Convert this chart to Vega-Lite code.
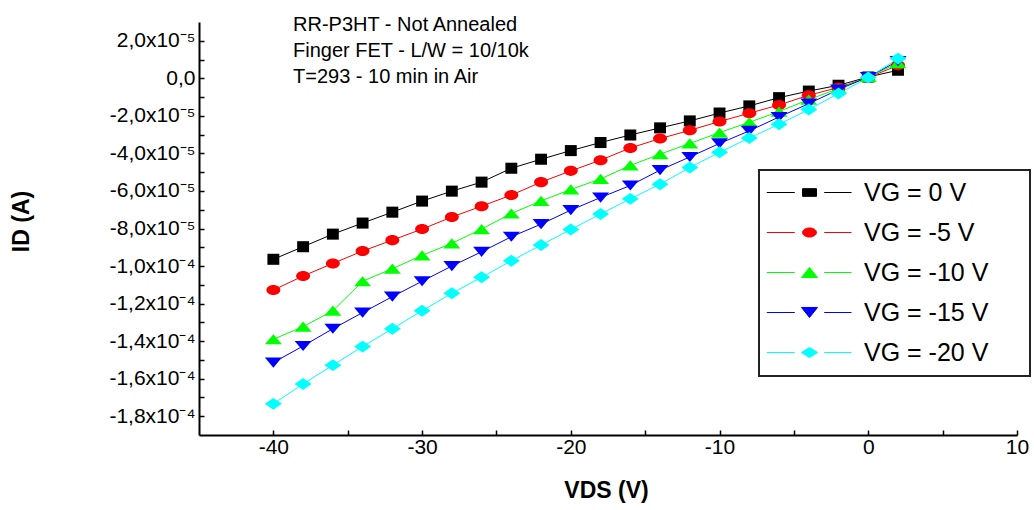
{
  "$schema": "https://vega.github.io/schema/vega-lite/v6.json",
  "width": 818,
  "height": 413,
  "autosize": {"type": "none"},
  "padding": {"left": 199, "top": 22, "right": 17, "bottom": 75},
  "background": "white",
  "config": {
    "view": {"stroke": null},
    "font": "Liberation Sans",
    "axis": {
      "domainColor": "black", "domainWidth": 2, "tickColor": "black", "tickWidth": 1.5, "tickSize": -5,
      "grid": false, "labelColor": "black", "labelFont": "Liberation Sans", "labelFontSize": 21,
      "titleFont": "Liberation Sans", "titleFontSize": 23, "titleFontWeight": "bold", "titleColor": "black",
      "labelOverlap": false, "labelFlush": false
    }
  },
  "title": {
    "text": ["RR-P3HT - Not Annealed", "Finger FET - L/W = 10/10k", "T=293 - 10 min in Air"],
    "anchor": "start", "frame": "group", "orient": "top", "offset": 0, "dx": 94, "dy": 81,
    "baseline": "alphabetic", "lineHeight": 26, "fontSize": 20, "fontWeight": "normal",
    "font": "Liberation Sans", "color": "black"
  },
  "data": {"values": [
    {"vds": -40, "id": -9.64e-5, "vg": "VG = 0 V"}, {"vds": -38, "id": -8.97e-5, "vg": "VG = 0 V"},
    {"vds": -36, "id": -8.30e-5, "vg": "VG = 0 V"}, {"vds": -34, "id": -7.71e-5, "vg": "VG = 0 V"},
    {"vds": -32, "id": -7.13e-5, "vg": "VG = 0 V"}, {"vds": -30, "id": -6.54e-5, "vg": "VG = 0 V"},
    {"vds": -28, "id": -6.01e-5, "vg": "VG = 0 V"}, {"vds": -26, "id": -5.53e-5, "vg": "VG = 0 V"},
    {"vds": -24, "id": -4.79e-5, "vg": "VG = 0 V"}, {"vds": -22, "id": -4.31e-5, "vg": "VG = 0 V"},
    {"vds": -20, "id": -3.85e-5, "vg": "VG = 0 V"}, {"vds": -18, "id": -3.42e-5, "vg": "VG = 0 V"},
    {"vds": -16, "id": -3.02e-5, "vg": "VG = 0 V"}, {"vds": -14, "id": -2.64e-5, "vg": "VG = 0 V"},
    {"vds": -12, "id": -2.27e-5, "vg": "VG = 0 V"}, {"vds": -10, "id": -1.85e-5, "vg": "VG = 0 V"},
    {"vds": -8, "id": -1.47e-5, "vg": "VG = 0 V"}, {"vds": -6, "id": -1.03e-5, "vg": "VG = 0 V"},
    {"vds": -4, "id": -0.68e-5, "vg": "VG = 0 V"}, {"vds": -2, "id": -0.37e-5, "vg": "VG = 0 V"},
    {"vds": 0, "id": 0.07e-5, "vg": "VG = 0 V"}, {"vds": 2, "id": 0.43e-5, "vg": "VG = 0 V"},

    {"vds": -40, "id": -11.28e-5, "vg": "VG = -5 V"}, {"vds": -38, "id": -10.53e-5, "vg": "VG = -5 V"},
    {"vds": -36, "id": -9.86e-5, "vg": "VG = -5 V"}, {"vds": -34, "id": -9.20e-5, "vg": "VG = -5 V"},
    {"vds": -32, "id": -8.62e-5, "vg": "VG = -5 V"}, {"vds": -30, "id": -8.03e-5, "vg": "VG = -5 V"},
    {"vds": -28, "id": -7.39e-5, "vg": "VG = -5 V"}, {"vds": -26, "id": -6.81e-5, "vg": "VG = -5 V"},
    {"vds": -24, "id": -6.22e-5, "vg": "VG = -5 V"}, {"vds": -22, "id": -5.53e-5, "vg": "VG = -5 V"},
    {"vds": -20, "id": -4.93e-5, "vg": "VG = -5 V"}, {"vds": -18, "id": -4.36e-5, "vg": "VG = -5 V"},
    {"vds": -16, "id": -3.71e-5, "vg": "VG = -5 V"}, {"vds": -14, "id": -3.21e-5, "vg": "VG = -5 V"},
    {"vds": -12, "id": -2.77e-5, "vg": "VG = -5 V"}, {"vds": -10, "id": -2.30e-5, "vg": "VG = -5 V"},
    {"vds": -8, "id": -1.86e-5, "vg": "VG = -5 V"}, {"vds": -6, "id": -1.42e-5, "vg": "VG = -5 V"},
    {"vds": -4, "id": -0.90e-5, "vg": "VG = -5 V"}, {"vds": -2, "id": -0.49e-5, "vg": "VG = -5 V"},
    {"vds": 0, "id": 0.04e-5, "vg": "VG = -5 V"}, {"vds": 2, "id": 0.69e-5, "vg": "VG = -5 V"},

    {"vds": -40, "id": -13.90e-5, "vg": "VG = -10 V"}, {"vds": -38, "id": -13.23e-5, "vg": "VG = -10 V"},
    {"vds": -36, "id": -12.38e-5, "vg": "VG = -10 V"}, {"vds": -34, "id": -10.81e-5, "vg": "VG = -10 V"},
    {"vds": -32, "id": -10.14e-5, "vg": "VG = -10 V"}, {"vds": -30, "id": -9.43e-5, "vg": "VG = -10 V"},
    {"vds": -28, "id": -8.79e-5, "vg": "VG = -10 V"}, {"vds": -26, "id": -8.03e-5, "vg": "VG = -10 V"},
    {"vds": -24, "id": -7.20e-5, "vg": "VG = -10 V"}, {"vds": -22, "id": -6.53e-5, "vg": "VG = -10 V"},
    {"vds": -20, "id": -5.92e-5, "vg": "VG = -10 V"}, {"vds": -18, "id": -5.36e-5, "vg": "VG = -10 V"},
    {"vds": -16, "id": -4.64e-5, "vg": "VG = -10 V"}, {"vds": -14, "id": -4.04e-5, "vg": "VG = -10 V"},
    {"vds": -12, "id": -3.47e-5, "vg": "VG = -10 V"}, {"vds": -10, "id": -2.89e-5, "vg": "VG = -10 V"},
    {"vds": -8, "id": -2.34e-5, "vg": "VG = -10 V"}, {"vds": -6, "id": -1.77e-5, "vg": "VG = -10 V"},
    {"vds": -4, "id": -1.13e-5, "vg": "VG = -10 V"}, {"vds": -2, "id": -0.55e-5, "vg": "VG = -10 V"},
    {"vds": 0, "id": 0.07e-5, "vg": "VG = -10 V"}, {"vds": 2, "id": 0.81e-5, "vg": "VG = -10 V"},

    {"vds": -40, "id": -15.14e-5, "vg": "VG = -15 V"}, {"vds": -38, "id": -14.26e-5, "vg": "VG = -15 V"},
    {"vds": -36, "id": -13.34e-5, "vg": "VG = -15 V"}, {"vds": -34, "id": -12.48e-5, "vg": "VG = -15 V"},
    {"vds": -32, "id": -11.63e-5, "vg": "VG = -15 V"}, {"vds": -30, "id": -10.81e-5, "vg": "VG = -15 V"},
    {"vds": -28, "id": -10.00e-5, "vg": "VG = -15 V"}, {"vds": -26, "id": -9.24e-5, "vg": "VG = -15 V"},
    {"vds": -24, "id": -8.44e-5, "vg": "VG = -15 V"}, {"vds": -22, "id": -7.77e-5, "vg": "VG = -15 V"},
    {"vds": -20, "id": -7.02e-5, "vg": "VG = -15 V"}, {"vds": -18, "id": -6.35e-5, "vg": "VG = -15 V"},
    {"vds": -16, "id": -5.71e-5, "vg": "VG = -15 V"}, {"vds": -14, "id": -4.89e-5, "vg": "VG = -15 V"},
    {"vds": -12, "id": -4.19e-5, "vg": "VG = -15 V"}, {"vds": -10, "id": -3.47e-5, "vg": "VG = -15 V"},
    {"vds": -8, "id": -2.80e-5, "vg": "VG = -15 V"}, {"vds": -6, "id": -2.06e-5, "vg": "VG = -15 V"},
    {"vds": -4, "id": -1.35e-5, "vg": "VG = -15 V"}, {"vds": -2, "id": -0.60e-5, "vg": "VG = -15 V"},
    {"vds": 0, "id": 0.07e-5, "vg": "VG = -15 V"}, {"vds": 2, "id": 0.92e-5, "vg": "VG = -15 V"},

    {"vds": -40, "id": -17.34e-5, "vg": "VG = -20 V"}, {"vds": -38, "id": -16.28e-5, "vg": "VG = -20 V"},
    {"vds": -36, "id": -15.28e-5, "vg": "VG = -20 V"}, {"vds": -34, "id": -14.29e-5, "vg": "VG = -20 V"},
    {"vds": -32, "id": -13.34e-5, "vg": "VG = -20 V"}, {"vds": -30, "id": -12.38e-5, "vg": "VG = -20 V"},
    {"vds": -28, "id": -11.45e-5, "vg": "VG = -20 V"}, {"vds": -26, "id": -10.60e-5, "vg": "VG = -20 V"},
    {"vds": -24, "id": -9.72e-5, "vg": "VG = -20 V"}, {"vds": -22, "id": -8.88e-5, "vg": "VG = -20 V"},
    {"vds": -20, "id": -8.05e-5, "vg": "VG = -20 V"}, {"vds": -18, "id": -7.23e-5, "vg": "VG = -20 V"},
    {"vds": -16, "id": -6.42e-5, "vg": "VG = -20 V"}, {"vds": -14, "id": -5.64e-5, "vg": "VG = -20 V"},
    {"vds": -12, "id": -4.75e-5, "vg": "VG = -20 V"}, {"vds": -10, "id": -3.94e-5, "vg": "VG = -20 V"},
    {"vds": -8, "id": -3.18e-5, "vg": "VG = -20 V"}, {"vds": -6, "id": -2.45e-5, "vg": "VG = -20 V"},
    {"vds": -4, "id": -1.66e-5, "vg": "VG = -20 V"}, {"vds": -2, "id": -0.81e-5, "vg": "VG = -20 V"},
    {"vds": 0, "id": 0.04e-5, "vg": "VG = -20 V"}, {"vds": 2, "id": 1.05e-5, "vg": "VG = -20 V"}
  ]},
  "encoding": {
    "x": {
      "field": "vds", "type": "quantitative",
      "scale": {"domain": [-45, 10], "nice": false, "zero": false},
      "axis": {
        "values": [-40, -35, -30, -25, -20, -15, -10, -5, 0, 5, 10],
        "labelExpr": "datum.value % 10 == 0 ? (datum.value < 0 ? '-' + abs(datum.value) : '' + datum.value) : ''",
        "labelBaseline": "top", "labelPadding": 6.5,
        "title": "VDS (V)", "titleX": 407, "titleY": 62, "titleBaseline": "alphabetic", "titleAlign": "center"
      }
    },
    "y": {
      "field": "id", "type": "quantitative",
      "scale": {"domain": [-0.00019, 0.00003], "nice": false, "zero": false},
      "axis": {
        "values": [0.00002, 0.00001, 0, -0.00001, -0.00002, -0.00003, -0.00004, -0.00005, -0.00006, -0.00007, -0.00008, -0.00009, -0.0001, -0.00011, -0.00012, -0.00013, -0.00014, -0.00015, -0.00016, -0.00017, -0.00018],
        "labelExpr": "datum.value == 0 ? '0,0' : (abs(round(datum.value * 100000)) % 2 == 1 ? '' : (datum.value < 0 ? '-' : '') + replace(format(abs(datum.value) * (abs(datum.value) >= 0.0000999 ? 10000 : 100000), '.1f'), '.', ',') + 'x10' + (abs(datum.value) >= 0.0000999 ? '⁻⁴' : '⁻⁵'))",
        "labelAlign": "right", "labelBaseline": "middle", "labelPadding": 9,
        "title": "ID (A)", "titleX": -171, "titleY": 199, "titleAngle": -90, "titleBaseline": "alphabetic", "titleAlign": "center"
      }
    },
    "color": {
      "field": "vg", "type": "nominal",
      "scale": {
        "domain": ["VG = 0 V", "VG = -5 V", "VG = -10 V", "VG = -15 V", "VG = -20 V"],
        "range": ["#000000", "#ff0000", "#00ff00", "#0000ff", "#00ffff"]
      },
      "legend": {
        "orient": "none", "legendX": 560, "legendY": 148, "title": null,
        "strokeColor": "#222222", "padding": 10, "rowPadding": 14,
        "symbolSize": 196, "symbolOffset": 28, "labelFontSize": 25, "labelFont": "Liberation Sans", "labelColor": "black",
        "labelOffset": 42, "labelBaseline": "middle",
        "encode": {
          "legend": {"update": {"strokeWidth": {"value": 2}}},
          "symbols": {"update": {
            "shape": {"signal": "['M-6.1,0H-2.1M2.1,0H6M-1,-0.55H1V0.55H-1ZM29.7,0','M-6.1,0H-2.1M2.1,0H6M-1,0A1,0.65 0 1,0 1,0A1,0.65 0 1,0 -1,0ZM29.7,0','M-6.1,0H-2.1M2.1,0H6M0,-0.72L1.15,0.72L-1.15,0.72ZM29.7,0','M-6.1,0H-2.1M2.1,0H6M0,0.72L1.15,-0.72L-1.15,-0.72ZM29.7,0','M-6.1,0H-2.1M2.1,0H6M0,-0.72L1.15,0L0,0.72L-1.15,0ZM29.7,0'][indexof(['VG = 0 V','VG = -5 V','VG = -10 V','VG = -15 V','VG = -20 V'], datum.value)]"},
            "size": {"value": 196},
            "stroke": {"scale": "color", "field": "value"},
            "fill": {"scale": "color", "field": "value"},
            "strokeWidth": {"value": 1},
            "opacity": {"value": 1},
            "fillOpacity": {"value": 1},
            "strokeOpacity": {"value": 1}
          }}
        }
      }
    }
  },
  "layer": [
    {"mark": {"type": "line", "strokeWidth": 1}},
    {
      "transform": [{"filter": {"field": "vg", "equal": "VG = 0 V"}}],
      "mark": {"type": "point", "filled": true, "size": 289, "opacity": 1, "strokeWidth": 0, "shape": "M-0.7,-0.65H0.7V0.65H-0.7Z"}
    },
    {
      "transform": [{"filter": {"field": "vg", "equal": "VG = -5 V"}}],
      "mark": {"type": "point", "filled": true, "size": 289, "opacity": 1, "strokeWidth": 0, "shape": "M-0.82,0A0.82,0.59 0 1,0 0.82,0A0.82,0.59 0 1,0 -0.82,0Z"}
    },
    {
      "transform": [{"filter": {"field": "vg", "equal": "VG = -10 V"}}],
      "mark": {"type": "point", "filled": true, "size": 289, "opacity": 1, "strokeWidth": 0, "shape": "M0,-0.6L1,0.6L-1,0.6Z"}
    },
    {
      "transform": [{"filter": {"field": "vg", "equal": "VG = -15 V"}}],
      "mark": {"type": "point", "filled": true, "size": 289, "opacity": 1, "strokeWidth": 0, "shape": "M0,0.6L1,-0.6L-1,-0.6Z"}
    },
    {
      "transform": [{"filter": {"field": "vg", "equal": "VG = -20 V"}}],
      "mark": {"type": "point", "filled": true, "size": 289, "opacity": 1, "strokeWidth": 0, "shape": "M0,-0.7L1,0L0,0.7L-1,0Z"}
    }
  ]
}
